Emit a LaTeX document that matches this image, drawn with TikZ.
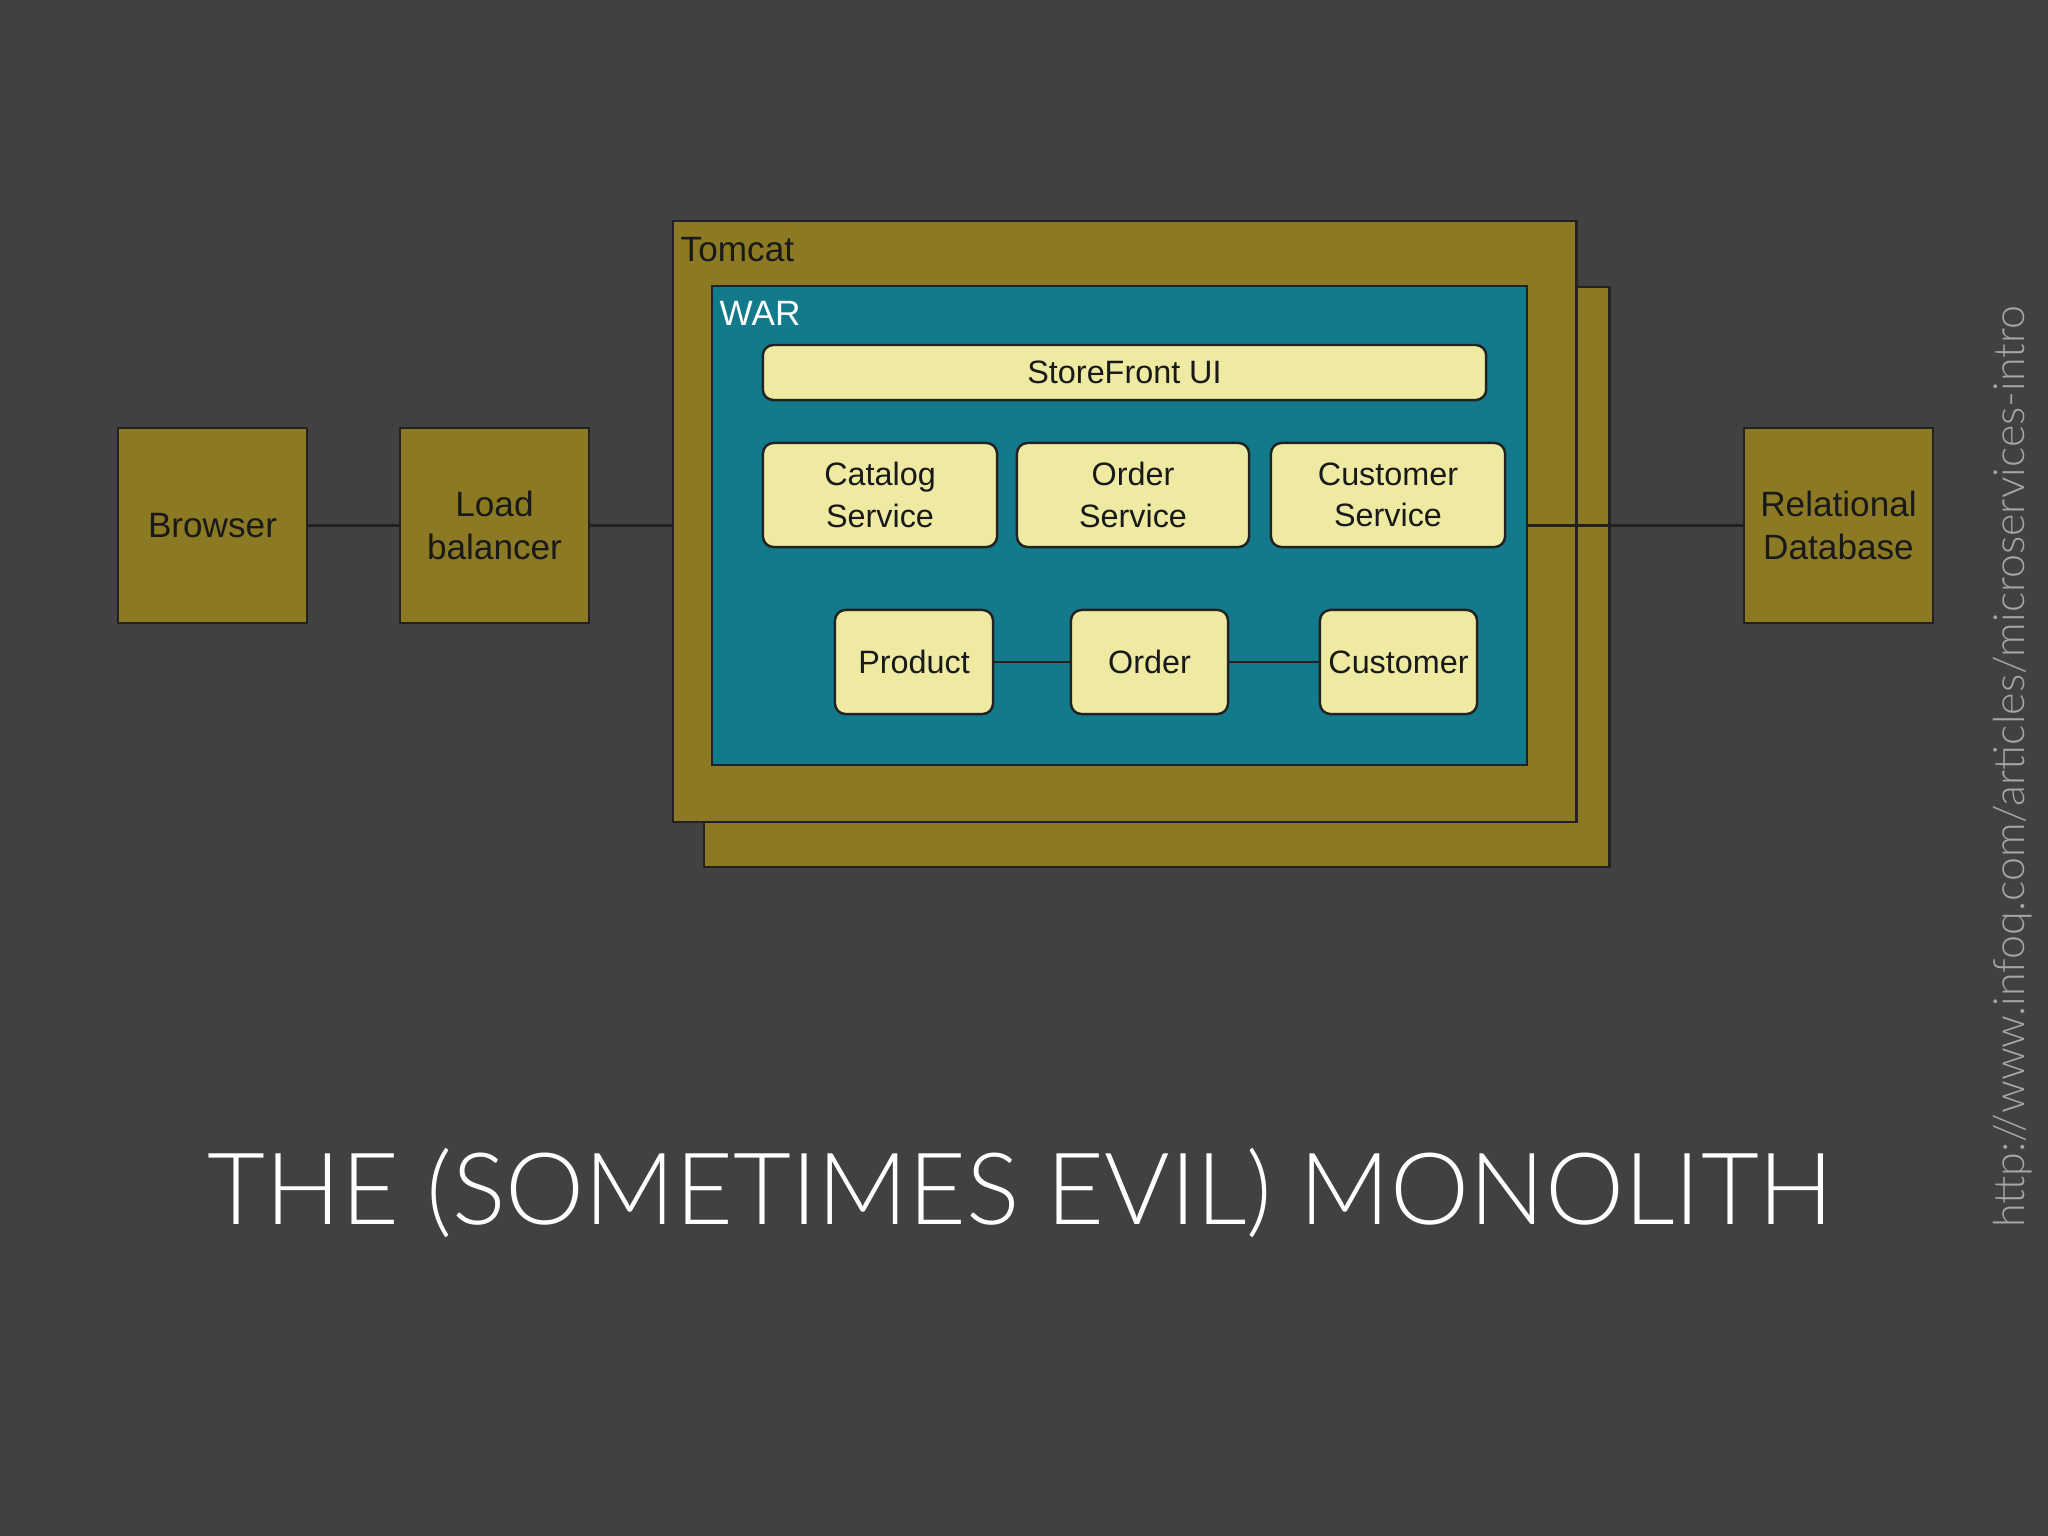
\documentclass[tikz,border=0pt]{standalone}
\usepackage{fontspec}
\setmainfont{Liberation Sans}
\newfontfamily\titlefont{Lato Light}
\usetikzlibrary{positioning}
\definecolor{bg}{HTML}{414042}
\definecolor{olive}{HTML}{8B7A23}
\definecolor{teal}{HTML}{137A8B}
\definecolor{paleyellow}{HTML}{EEEAA2}
\definecolor{edge}{HTML}{222222}
\definecolor{urlgray}{HTML}{A6A6A6}
\tikzset{
  olivebox/.style={draw=edge, line width=0.7pt, fill=olive, inner sep=0pt, align=center, font=\fontsize{10}{12}\selectfont, text=black!90},
  warbox/.style={draw=edge, line width=0.7pt, fill=teal, inner sep=0pt},
  compbox/.style={draw=edge, line width=0.7pt, fill=paleyellow, rounded corners=3pt, inner sep=0pt, align=center, font=\fontsize{9.2}{11.8}\selectfont, text=black!90},
  conn/.style={draw=edge, line width=0.8pt},
}
\begin{document}
\begin{tikzpicture}[x=0.01cm, y=-0.01cm]
\fill[bg] (0,0) rectangle (2048,1536);
\useasboundingbox (0,0) rectangle (2048,1536);

% outer boxes
\node[olivebox, minimum width=1.89cm, minimum height=1.95cm] (browser) at (212.5,525.5) {Browser};
\node[olivebox, minimum width=1.89cm, minimum height=1.95cm] (lb) at (494.5,525.5) {Load\\balancer};
\node[olivebox, minimum width=1.89cm, minimum height=1.95cm] (db) at (1838.5,525.5) {Relational\\Database};

% tomcat stack
\node[olivebox, minimum width=9.05cm, minimum height=5.80cm] (tomcatback) at (1156.5,577) {};
\node[olivebox, minimum width=9.03cm, minimum height=6.01cm] (tomcat) at (1124.5,521.5) {};
\node[anchor=west, inner sep=0pt, font=\fontsize{10}{12}\selectfont, text=black!90] (tomcatlabel) at (680,250) {Tomcat};

% WAR
\node[warbox, minimum width=8.15cm, minimum height=4.79cm] (war) at (1119.5,525.5) {};
\node[anchor=west, inner sep=0pt, font=\fontsize{10}{12}\selectfont, text=white] (warlabel) at (719,313) {WAR};

% components
\node[compbox, minimum width=7.23cm, minimum height=0.55cm] (ui) at (1124.5,372.5) {StoreFront UI};
\node[compbox, minimum width=2.34cm, minimum height=1.04cm] (catalog) at (880,495) {Catalog\\Service};
\node[compbox, minimum width=2.32cm, minimum height=1.04cm] (ordersvc) at (1133,495) {Order\\Service};
\node[compbox, minimum width=2.34cm, minimum height=1.04cm] (custsvc) at (1388,495) {Customer\\Service};
\node[compbox, minimum width=1.58cm, minimum height=1.04cm] (product) at (914,662) {Product};
\node[compbox, minimum width=1.57cm, minimum height=1.04cm] (order) at (1149.5,662) {Order};
\node[compbox, minimum width=1.57cm, minimum height=1.04cm] (customer) at (1398.5,662) {Customer};

% connectors
\draw[conn] (browser.east) -- (lb.west);
\draw[conn] (lb.east) -- (lb.east -| tomcat.west);
\draw[conn] (war.east) -- (db.west);
\draw[conn] (product.east) -- (order.west);
\draw[conn] (order.east) -- (customer.west);

% title
\node[anchor=base, inner sep=0pt, text=white] (title) at (1021,1224)
  {\resizebox{16.25cm}{!}{\titlefont THE (SOMETIMES EVIL) MONOLITH}};

% url
\node[rotate=90, inner sep=0pt, text=urlgray] (url) at (2013,767)
  {\resizebox{9.21cm}{!}{\titlefont http://www.infoq.com/articles/microservices-intro}};
\end{tikzpicture}
\end{document}
